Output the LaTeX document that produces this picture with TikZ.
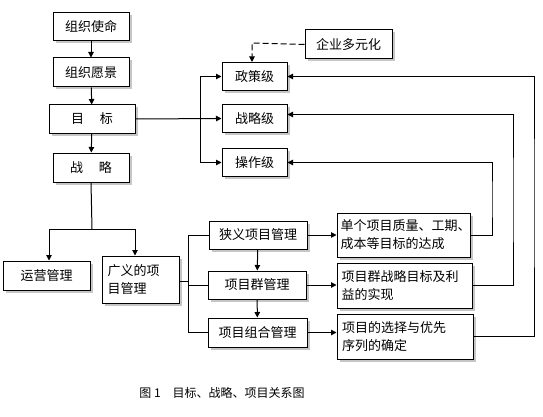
\documentclass[tikz,border=0pt]{standalone}
\usepackage{fontspec}
\newfontfamily\cjk{Noto Sans CJK SC}
\usetikzlibrary{arrows.meta,shadows}
\begin{document}
\begin{tikzpicture}[x=1pt,y=-1pt,
  box/.style={draw=black,line width=1pt,fill=white,inner sep=2pt,
    font=\cjk\fontsize{13}{18}\selectfont,
    drop shadow={shadow xshift=2.5pt,shadow yshift=-2.5pt,fill=gray!45,opacity=1}},
  ln/.style={line width=1pt,draw=black},
  arr/.style={ln,-{Triangle[length=5.5pt,width=5.5pt]}},
  dsh/.style={arr,dash pattern=on 6pt off 3pt}]
\useasboundingbox (0,0) rectangle (543,417);
% left column
\node[box,minimum width=76pt,minimum height=28pt] (m1) at (91,27) {组织使命};
\node[box,minimum width=76pt,minimum height=29pt] (m2) at (91,72.5) {组织愿景};
\node[box,minimum width=86pt,minimum height=28pt] (goal) at (92,119) {目\hspace{1.2em}标};
\node[box,minimum width=76pt,minimum height=29pt] (strat) at (91,167.5) {战\hspace{1.2em}略};
% levels
\node[box,minimum width=65pt,minimum height=28pt] (p1) at (254.5,76.5) {政策级\hspace{0.5em}};
\node[box,minimum width=65pt,minimum height=28pt] (p2) at (254.5,118.5) {战略级\hspace{0.5em}};
\node[box,minimum width=65pt,minimum height=28pt] (p3) at (254.5,162.5) {操作级\hspace{0.5em}};
\node[box,minimum width=87pt,minimum height=29pt] (div) at (348.5,44.5) {企业多元化};
% lower
\node[box,minimum width=87pt,minimum height=29pt] (ops) at (46.5,275.5) {运营管理};
\node[box,minimum width=77pt,minimum height=47pt,align=left,text width=66pt] (broad) at (140.5,279.5) {广义的项\\目管理};
\node[box,minimum width=98pt,minimum height=28pt] (n1) at (258,235) {狭义项目管理};
\node[box,minimum width=98pt,minimum height=28pt] (n2) at (257,285) {项目群管理};
\node[box,minimum width=99pt,minimum height=29pt] (n3) at (257.5,332.5) {项目组合管理};
\node[box,minimum width=133pt,minimum height=44pt,align=left,text width=126pt] (r1) at (403.5,235) {单个项目质量、工期、\\成本等目标的达成};
\node[box,minimum width=135pt,minimum height=45pt,align=left,text width=126pt] (r2) at (404.5,285.5) {项目群战略目标及利\\益的实现};
\node[box,minimum width=136pt,minimum height=45pt,align=left,text width=126pt] (r3) at (405,336.5) {项目的选择与优先\\序列的确定};
% caption
\node[font=\cjk\fontsize{12}{14}\selectfont] (cap) at (222,393) {图 1\hspace{1em}目标、战略、项目关系图};
% coordinates
\coordinate (bx) at (200,120);
\coordinate (sp) at (92,229);
\coordinate (opsin) at (49,229);
\coordinate (brin) at (135,229);
\coordinate (vb) at (188,281);
\coordinate (fb1) at (492,200);
\coordinate (fb2) at (513,200);
\coordinate (fb3) at (534,200);
\coordinate (dv) at (252,43);
% connectors
\draw[arr] (m1) -- (m2);
\draw[arr] (m2) -- (goal);
\draw[arr] (goal) -- (strat);
\draw[arr] (goal.east) -- (p2.west);
\draw[ln] (bx |- p1.west) -- (bx |- p3.west);
\draw[arr] (bx |- p1.west) -- (p1.west);
\draw[arr] (bx |- p3.west) -- (p3.west);
\draw[dsh] (div.west) -- (dv) -- (dv |- p1.north);
\draw[ln] (strat.south) -- (sp);
\draw[arr] (sp) -- (opsin) -- (opsin |- ops.north);
\draw[arr] (sp) -- (brin) -- (brin |- broad.north);
\draw[ln] (broad.east |- vb) -- (vb);
\draw[ln] (vb |- n1.west) -- (vb |- n3.west);
\draw[ln] (vb |- n1.west) -- (n1.west);
\draw[ln] (vb |- n2.west) -- (n2.west);
\draw[ln] (vb |- n3.west) -- (n3.west);
\draw[arr] (n1) -- (n2);
\draw[arr] (n2) -- (n3);
\draw[arr] (n1.east) -- (n1.east -| r1.west);
\draw[arr] (n2.east) -- (n2.east -| r2.west);
\draw[arr] (n3.east) -- (n3.east -| r3.west);
\draw[arr] (r1.east) -| (fb1) |- (p3.east);
\draw[arr] (r2.east) -| (fb2) |- ([yshift=4pt]p2.east);
\draw[arr] (r3.east) -| (fb3) |- (p1.east);
\end{tikzpicture}
\end{document}
